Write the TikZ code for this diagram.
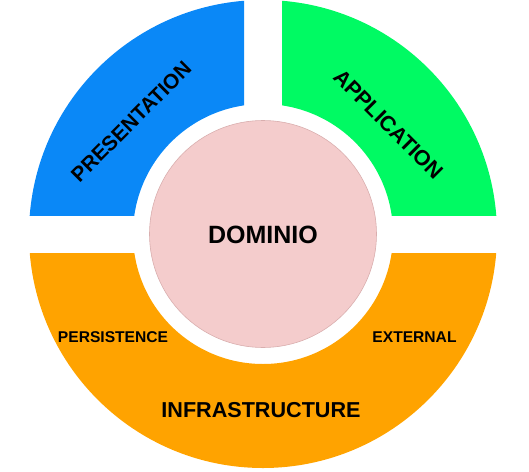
\documentclass[tikz,border=0pt]{standalone}
\usepackage{fontspec}
\setmainfont{Liberation Sans}
\usetikzlibrary{positioning}
\definecolor{layerblue}{HTML}{0A88F7}
\definecolor{layergreen}{HTML}{00FA63}
\definecolor{layerorange}{HTML}{FFA300}
\definecolor{domainpink}{HTML}{F4CCCC}
\definecolor{domainedge}{HTML}{D9AEAE}
\newcommand{\ringpart}[5]{%
  \begin{scope}
    \clip (#2,#3) rectangle (#4,#5);
    \fill[#1, even odd rule] (0,0) circle (234pt) (0,0) circle (130pt);
  \end{scope}
}
\tikzset{
  layertext/.style={font=\bfseries, inner sep=0pt, text depth=0pt},
}

\begin{document}
\begin{tikzpicture}[x=1pt, y=1pt]
  \useasboundingbox (-263,-237) rectangle (266,234);

  % Ring of layers
  \ringpart{layerblue}{-300}{19}{-19}{300}
  \ringpart{layergreen}{19}{19}{300}{300}
  \ringpart{layerorange}{-300}{-300}{300}{-19}

  % Domain core
  \fill[domainpink, draw=domainedge, line width=0.6pt] (0,0) circle (113.5pt);
  \node[layertext, font=\fontsize{25}{28}\bfseries\selectfont, text height=17.9pt] (dominio) at (0,-1) {DOMINIO};

  % Layer labels
  \node[layertext, font=\fontsize{20.8}{24}\bfseries\selectfont, text height=14.9pt, rotate=45] (presentation) at (-132,112.5) {PRESENTATION};
  \node[layertext, font=\fontsize{21.5}{25}\bfseries\selectfont, text height=15.4pt, rotate=-45] (application) at (126,110) {APPLICATION};
  \node[layertext, font=\fontsize{15.6}{18}\bfseries\selectfont, text height=11.2pt] (persistence) at (-150,-103) {PERSISTENCE};
  \node[layertext, font=\fontsize{15.6}{18}\bfseries\selectfont, text height=11.2pt] (external) at (151.5,-103) {EXTERNAL};
  \node[layertext, font=\fontsize{21.6}{25}\bfseries\selectfont, text height=15.5pt] (infrastructure) at (-2,-176) {INFRASTRUCTURE};
\end{tikzpicture}
\end{document}
